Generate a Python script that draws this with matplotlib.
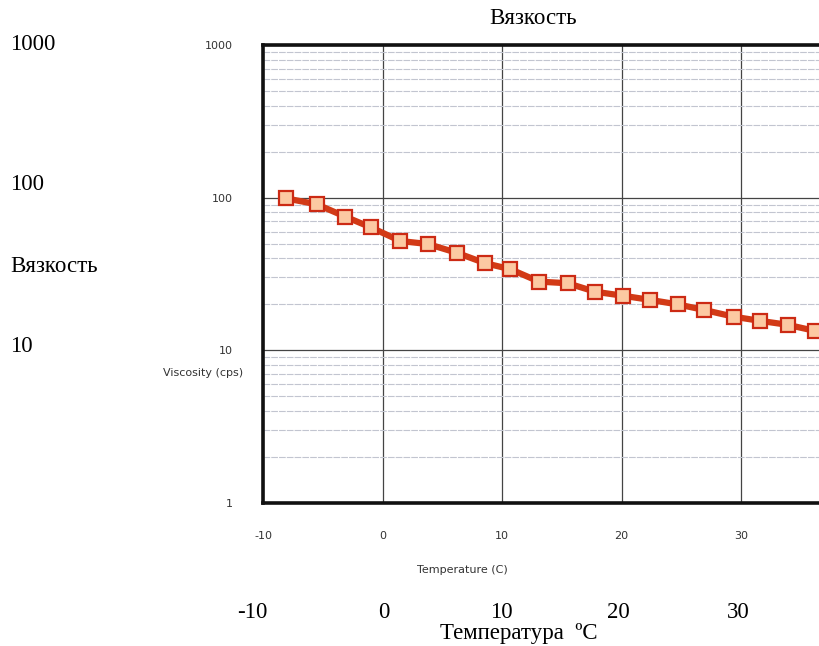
import matplotlib.pyplot as plt
from matplotlib.ticker import LogLocator, NullFormatter

# data
temperature_c = [-8.1, -5.5, -3.1, -1.0, 1.5, 3.8, 6.2, 8.6, 10.7, 13.1,
                 15.5, 17.8, 20.1, 22.4, 24.7, 26.9, 29.4, 31.6, 33.9, 36.2]
viscosity_cps = [99, 90.5, 75, 64, 52, 49.7, 43.6, 37.2, 34, 28.2,
                 27.5, 24.2, 22.8, 21.4, 20.0, 18.4, 16.6, 15.6, 14.7, 13.4]

x_ticks = [-10, 0, 10, 20, 30]
y_ticks = [1, 10, 100, 1000]
ru_x_labels = ['-10', '0', '10', '20', '30']
ru_y_labels = ['1000', '100', '10']

W, H = 819, 646
fig = plt.figure(figsize=(W / 100, H / 100), dpi=100)
fig.patch.set_facecolor('white')

# axes: left spine at x=263, top at y=45, bottom at y=503, 11.95 px per degree
ax = fig.add_axes([263 / W, (H - 503) / H, 50 * 11.95 / W, 458 / H])
ax.set_yscale('log')
ax.set_xlim(-10, 40)
ax.set_ylim(1, 1000)

ax.yaxis.set_major_locator(LogLocator(base=10))
ax.yaxis.set_minor_locator(LogLocator(base=10, subs=range(2, 10)))
ax.yaxis.set_minor_formatter(NullFormatter())
ax.set_xticks(x_ticks)
ax.set_yticks(y_ticks)
ax.set_xticklabels([str(t) for t in x_ticks])
ax.set_yticklabels([str(t) for t in y_ticks])

ax.grid(which='major', color='#444444', lw=0.9)
ax.grid(which='minor', axis='y', color='#c2c5d0', lw=0.8, ls=(0, (6, 1)))
ax.set_axisbelow(True)

ax.tick_params(which='both', length=0)
ax.tick_params(axis='y', pad=22, labelsize=8, labelcolor='#333333')
ax.tick_params(axis='x', pad=20, labelsize=8, labelcolor='#333333')

for side in ['left', 'bottom', 'top']:
    ax.spines[side].set_linewidth(2.6)
    ax.spines[side].set_color('#111111')
ax.spines['right'].set_visible(False)

ax.plot(temperature_c, viscosity_cps, color='#d23a16', lw=4.5,
        marker='s', markersize=10, markerfacecolor='#fcc9a2',
        markeredgecolor='#cc2a14', markeredgewidth=1.6, zorder=3)

small = dict(fontsize=8, color='#333333')
fig.text(243 / W, 1 - 373 / H, 'Viscosity (cps)', ha='right', va='center', **small)
fig.text(462 / W, 1 - 570 / H, 'Temperature (C)', ha='center', va='center', **small)

# Russian overlay labels
serif = dict(fontsize=16.5, family=['Liberation Serif', 'DejaVu Serif'], color='black')
for lab, y in zip(ru_y_labels, [45, 185, 347]):
    fig.text(10 / W, 1 - y / H, lab, ha='left', va='center', **serif)
fig.text(10 / W, 1 - 267 / H, 'Вязкость', ha='left', va='center', **serif)
for lab, x in zip(ru_x_labels, [252, 384, 501, 618, 738]):
    fig.text(x / W, 1 - 612 / H, lab, ha='center', va='center', **serif)
fig.text(519 / W, 1 - 634 / H, 'Температура  ºC', ha='center', va='center', **serif)
fig.text(533 / W, 1 - 19 / H, 'Вязкость', ha='center', va='center', **serif)

fig.savefig('out.png', dpi=100)
